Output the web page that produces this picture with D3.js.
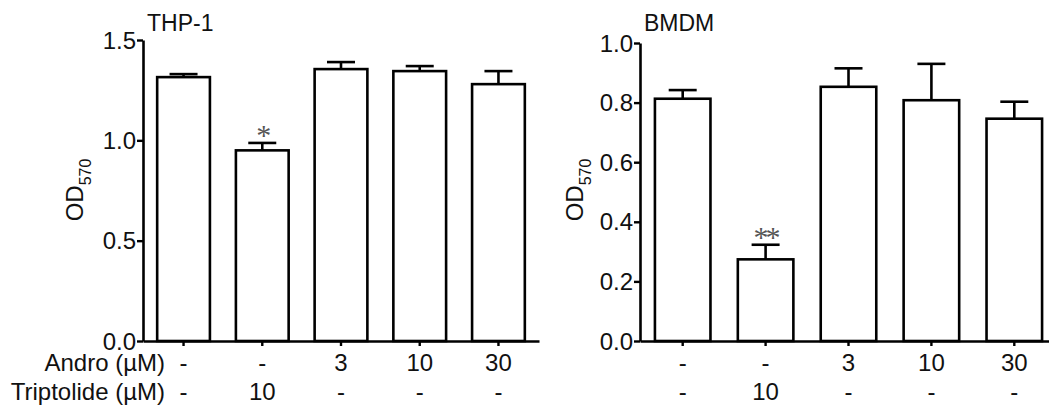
<!DOCTYPE html>
<html lang="en">
<head>
<meta charset="utf-8">
<title>OD570 bars</title>
<script src="https://cdn.jsdelivr.net/npm/d3@7"></script>
<style>
  body { margin: 0; background: #fff; }
  svg text { font-family: "Liberation Sans", Arial, sans-serif; fill: #111; }
</style>
</head>
<body>
<script>
// Data
var andro = ["-", "-", "3", "10", "30"];
var triptolide = ["-", "10", "-", "-", "-"];

var thpMean = [1.315, 0.95, 1.355, 1.345, 1.28];
var thpErr  = [0.015, 0.037, 0.035, 0.025, 0.065];
var thpSig  = ["", "*", "", "", ""];
var thpTicks = [0, 0.5, 1.0, 1.5];

var bmdmMean = [0.813, 0.274, 0.853, 0.808, 0.746];
var bmdmErr  = [0.029, 0.049, 0.062, 0.122, 0.057];
var bmdmSig  = ["", "**", "", "", ""];
var bmdmTicks = [0, 0.2, 0.4, 0.6, 0.8, 1.0];

var W = 1049, H = 408;
var svg = d3.select("body").append("svg").attr("width", W).attr("height", H);

function panel(opt) {
  var idx = d3.range(opt.mean.length);
  var x = d3.scaleBand().domain(idx).range([opt.x0, opt.x1])
            .paddingInner(0.33).paddingOuter(0.18);
  var y = d3.scaleLinear().domain([0, opt.ymax]).range([341, opt.ytop]);
  var g = svg.append("g");

  // bars
  g.selectAll("rect.bar").data(idx).enter().append("rect")
    .attr("x", function(i) { return x(i); })
    .attr("y", function(i) { return y(opt.mean[i]); })
    .attr("width", x.bandwidth())
    .attr("height", function(i) { return y(0) - y(opt.mean[i]); })
    .attr("fill", "#fff").attr("stroke", "#000").attr("stroke-width", 2.6);

  // upper error bars
  var cx = function(i) { return x(i) + x.bandwidth() / 2; };
  g.selectAll("line.err").data(idx).enter().append("line")
    .attr("x1", cx).attr("x2", cx)
    .attr("y1", function(i) { return y(opt.mean[i]); })
    .attr("y2", function(i) { return y(opt.mean[i] + opt.err[i]); })
    .attr("stroke", "#000").attr("stroke-width", 2.6);
  g.selectAll("line.cap").data(idx).enter().append("line")
    .attr("x1", function(i) { return cx(i) - 14; })
    .attr("x2", function(i) { return cx(i) + 14; })
    .attr("y1", function(i) { return y(opt.mean[i] + opt.err[i]); })
    .attr("y2", function(i) { return y(opt.mean[i] + opt.err[i]); })
    .attr("stroke", "#000").attr("stroke-width", 2.6);

  // significance stars
  g.selectAll("text.sig").data(idx).enter().append("text")
    .attr("x", cx)
    .attr("y", function(i) { return y(opt.mean[i] + opt.err[i]) + 2; })
    .attr("text-anchor", "middle")
    .style("font-family", "'Liberation Serif', serif")
    .style("font-size", "30px").style("fill", "#555")
    .style("letter-spacing", "-3px")
    .text(function(i) { return opt.sig[i]; });

  // y axis
  var ya = g.append("g").attr("transform", "translate(" + opt.x0 + ",0)")
    .call(d3.axisLeft(y).tickValues(opt.ticks).tickFormat(d3.format(".1f"))
            .tickSize(6).tickPadding(1).tickSizeOuter(0));
  // x axis
  var xa = g.append("g").attr("transform", "translate(0,341)")
    .call(d3.axisBottom(x).tickSize(5).tickFormat("").tickSizeOuter(0));
  [ya, xa].forEach(function(a) {
    a.select(".domain").attr("stroke", "#000").attr("stroke-width", 2.6);
    a.selectAll(".tick line").attr("stroke", "#000").attr("stroke-width", 2.4);
    a.selectAll("text").style("font-size", "24px").style("font-family", "'Liberation Sans', Arial, sans-serif").attr("fill", "#111");
  });
  ya.selectAll(".tick text").attr("dy", "0.34em");

  // category rows
  g.selectAll("text.r1").data(idx).enter().append("text")
    .attr("x", cx).attr("y", 371).attr("text-anchor", "middle")
    .style("font-size", "24px").text(function(i) { return andro[i]; });
  g.selectAll("text.r2").data(idx).enter().append("text")
    .attr("x", cx).attr("y", 400).attr("text-anchor", "middle")
    .style("font-size", "24px").text(function(i) { return triptolide[i]; });

  // title
  g.append("text").attr("x", opt.x0 + 4).attr("y", 31)
    .style("font-size", "23px").text(opt.title);

  // y label OD570
  var yl = g.append("text")
    .attr("transform", "translate(" + opt.ylx + ",190) rotate(-90)")
    .attr("text-anchor", "middle").style("font-size", "24px");
  yl.append("tspan").text("OD");
  yl.append("tspan").attr("dy", 8).style("font-size", "16px").text("570");
  return g;
}

panel({ mean: thpMean, err: thpErr, sig: thpSig, ticks: thpTicks, ymax: 1.5,
        ytop: 40, x0: 143, x1: 539, title: "THP-1", ylx: 83 });
panel({ mean: bmdmMean, err: bmdmErr, sig: bmdmSig, ticks: bmdmTicks, ymax: 1.0,
        ytop: 43, x0: 640, x1: 1057, title: "BMDM", ylx: 583 });

// row labels (left panel only)
svg.append("text").attr("x", 165).attr("y", 371).attr("text-anchor", "end")
  .style("font-size", "24px").text("Andro (\u00b5M)");
svg.append("text").attr("x", 165).attr("y", 400).attr("text-anchor", "end")
  .style("font-size", "24px").text("Triptolide (\u00b5M)");
</script>
</body>
</html>
